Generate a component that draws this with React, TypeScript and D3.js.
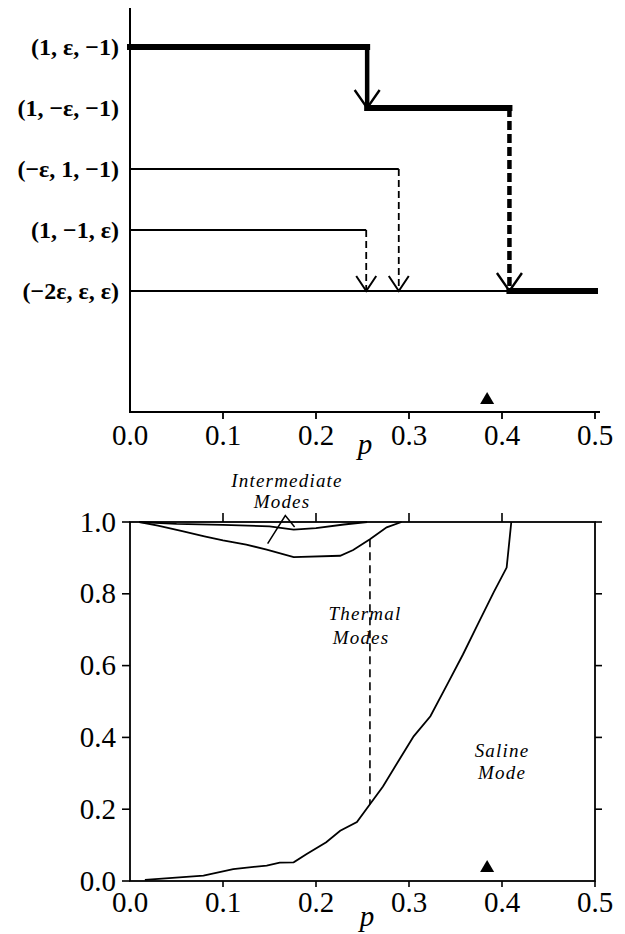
import React from "react";
import * as d3 from "d3";

// ---- data ----
const pTicks = [0, 0.1, 0.2, 0.3, 0.4, 0.5];
const fracTicks = [0, 0.2, 0.4, 0.6, 0.8, 1.0];

// equilibrium states (upper diagram), top to bottom
const states = ["(1, ε, −1)", "(1, −ε, −1)", "(−ε, 1, −1)", "(1, −1, ε)", "(−2ε, ε, ε)"];

// branches: state index, p range, whether it is the followed path
const branchState = [0, 1, 2, 3, 4, 4];
const branchStart = [0, 0.255, 0, 0, 0, 0.408];
const branchEnd = [0.255, 0.408, 0.289, 0.254, 0.408, 0.5];
const branchFollowed = [true, true, false, false, false, true];

// transitions between states
const jumpFrom = [0, 1, 2, 3];
const jumpTo = [1, 4, 4, 4];
const jumpP = [0.255, 0.408, 0.289, 0.254];
const jumpFollowed = [true, true, false, false];
const jumpDashed = [false, true, true, true];

const markerP = 0.384;

// lower diagram: mode boundaries (p, fraction)
const intermediateP = [0.01, 0.05, 0.1, 0.15, 0.176, 0.2, 0.23, 0.255];
const intermediateV = [1.0, 0.995, 0.992, 0.988, 0.979, 0.983, 0.993, 1.0];

const thermalP = [0.01, 0.03, 0.055, 0.08, 0.1, 0.125, 0.147, 0.176, 0.226, 0.24, 0.258, 0.276, 0.292];
const thermalV = [1.0, 0.99, 0.975, 0.96, 0.949, 0.937, 0.923, 0.902, 0.906, 0.922, 0.952, 0.985, 1.0];

const salineP = [0.016, 0.079, 0.111, 0.147, 0.161, 0.176, 0.19, 0.211, 0.226, 0.244, 0.258, 0.272, 0.29, 0.305, 0.323, 0.341, 0.358, 0.373, 0.391, 0.405, 0.41];
const salineV = [0.003, 0.015, 0.033, 0.043, 0.051, 0.052, 0.075, 0.108, 0.14, 0.164, 0.214, 0.263, 0.34, 0.403, 0.459, 0.547, 0.631, 0.71, 0.804, 0.873, 1.0];

const thermalDividerP = 0.258;

const SERIF = '"Liberation Serif", "Times New Roman", Times, serif';

export default function App() {
  const W = 625;
  const H = 934;

  const x = d3.scaleLinear().domain([0, 0.5]).range([130, 595]);

  // upper panel
  const topAxisY = 412;
  const yState = d3.scalePoint<number>().domain(d3.range(states.length)).range([47, 291]);

  // lower panel
  const yF = d3.scaleLinear().domain([0, 1]).range([881, 522]);

  const line = d3
    .line<[number, number]>()
    .x((d) => x(d[0]))
    .y((d) => yF(d[1]));

  const zip = (a: number[], b: number[]) => a.map((v, i) => [v, b[i]] as [number, number]);

  const interpolateAt = (ps: number[], vs: number[], p: number) => {
    for (let i = 1; i < ps.length; i++) {
      if (p <= ps[i]) {
        const t = (p - ps[i - 1]) / (ps[i] - ps[i - 1]);
        return vs[i - 1] + t * (vs[i] - vs[i - 1]);
      }
    }
    return vs[vs.length - 1];
  };

  const arrowHead = (ax: number, ay: number, hw: number, h: number) =>
    `M${ax - hw},${ay - h}L${ax},${ay}L${ax + hw},${ay - h}`;

  const tri = d3.symbol().type(d3.symbolTriangle).size(85)() as string;

  const divTop = interpolateAt(thermalP, thermalV, thermalDividerP);
  const divBottom = interpolateAt(salineP, salineV, thermalDividerP);

  return (
    <svg
      width={W}
      height={H}
      style={{ position: "absolute", left: 0, top: 0, background: "#fff", fontFamily: SERIF }}
    >
      {/* ===== upper panel ===== */}
      <g>
        <line x1={130} x2={130} y1={8} y2={topAxisY} stroke="#000" strokeWidth={2} />
        <line x1={129} x2={600} y1={topAxisY} y2={topAxisY} stroke="#000" strokeWidth={2} />
        {pTicks.slice(1).map((t) => (
          <line key={t} x1={x(t)} x2={x(t)} y1={topAxisY} y2={topAxisY + 7} stroke="#000" strokeWidth={1.8} />
        ))}
        {pTicks.map((t) => (
          <text key={t} x={x(t)} y={445} textAnchor="middle" fontSize={29}>
            {t.toFixed(1)}
          </text>
        ))}
        <text x={365} y={454} textAnchor="middle" fontSize={29} fontStyle="italic">
          p
        </text>

        {states.map((s, i) => (
          <text key={s} x={119} y={(yState(i) as number) + 8} textAnchor="end" fontSize={24} fontWeight="bold">
            {s}
          </text>
        ))}

        {branchState.map((s, i) => (
          <line
            key={i}
            x1={x(branchStart[i])}
            x2={x(branchEnd[i])}
            y1={yState(s) as number}
            y2={yState(s) as number}
            stroke="#000"
            strokeWidth={branchFollowed[i] ? 6 : 1.8}
            strokeLinecap={branchFollowed[i] ? "square" : "butt"}
          />
        ))}

        {jumpFrom.map((f, i) => {
          const xp = x(jumpP[i]);
          const y1 = yState(f) as number;
          const y2 = yState(jumpTo[i]) as number;
          const heavy = jumpFollowed[i];
          return (
            <g key={i}>
              <line
                x1={xp}
                x2={xp}
                y1={y1}
                y2={y2 - 2}
                stroke="#000"
                strokeWidth={heavy ? 4.5 : 1.8}
                strokeDasharray={jumpDashed[i] ? (heavy ? "9,4" : "7,4") : undefined}
              />
              <path
                d={heavy ? arrowHead(xp, y2, 12.5, 18) : arrowHead(xp, y2, 10, 15)}
                fill="none"
                stroke="#000"
                strokeWidth={heavy ? 2.4 : 2}
              />
            </g>
          );
        })}

        <path d={tri} transform={`translate(${x(markerP)},${topAxisY - 12})`} fill="#000" />
      </g>

      {/* ===== lower panel ===== */}
      <g>
        <rect
          x={x(0)}
          y={yF(1)}
          width={x(0.5) - x(0)}
          height={yF(0) - yF(1)}
          fill="none"
          stroke="#000"
          strokeWidth={1.8}
        />
        {pTicks.slice(1).map((t) => (
          <line key={"b" + t} x1={x(t)} x2={x(t)} y1={yF(0)} y2={yF(0) + 6} stroke="#000" strokeWidth={1.6} />
        ))}
        {pTicks.slice(1, -1).map((t) => (
          <line key={"t" + t} x1={x(t)} x2={x(t)} y1={yF(1)} y2={yF(1) - 9} stroke="#000" strokeWidth={1.6} />
        ))}
        {fracTicks.map((t) => (
          <line key={"l" + t} x1={x(0) - 8} x2={x(0)} y1={yF(t)} y2={yF(t)} stroke="#000" strokeWidth={1.6} />
        ))}
        {fracTicks.slice(1).map((t) => (
          <line key={"r" + t} x1={x(0.5)} x2={x(0.5) + 7} y1={yF(t)} y2={yF(t)} stroke="#000" strokeWidth={1.6} />
        ))}
        {pTicks.map((t) => (
          <text key={"bx" + t} x={x(t)} y={912} textAnchor="middle" fontSize={29}>
            {t.toFixed(1)}
          </text>
        ))}
        {fracTicks.map((t) => (
          <text key={"ly" + t} x={116} y={yF(t) + 9.5} textAnchor="end" fontSize={29}>
            {t.toFixed(1)}
          </text>
        ))}
        <text x={367} y={926} textAnchor="middle" fontSize={29} fontStyle="italic">
          p
        </text>

        <path d={line(zip(intermediateP, intermediateV)) as string} fill="none" stroke="#000" strokeWidth={1.8} />
        <path d={line(zip(thermalP, thermalV)) as string} fill="none" stroke="#000" strokeWidth={1.8} />
        <path d={line(zip(salineP, salineV)) as string} fill="none" stroke="#000" strokeWidth={1.8} />

        <line
          x1={x(thermalDividerP)}
          x2={x(thermalDividerP)}
          y1={yF(divTop)}
          y2={yF(divBottom)}
          stroke="#000"
          strokeWidth={1.6}
          strokeDasharray="8,5"
        />

        {/* pointer from the label to both intermediate boundaries */}
        <path
          d={`M${x(0.148)},${yF(0.94)}L${x(0.167)},${yF(1.018)}L${x(0.177)},${yF(0.986)}`}
          fill="none"
          stroke="#000"
          strokeWidth={1.5}
        />

        <g fontStyle="italic" fontSize={19} letterSpacing={1.2} textAnchor="middle">
          <text x={287} y={487}>Intermediate</text>
          <text x={282} y={508}>Modes</text>
          <text x={365} y={620}>Thermal</text>
          <text x={361} y={644}>Modes</text>
          <text x={502} y={757}>Saline</text>
          <text x={502} y={779}>Mode</text>
        </g>

        <path d={tri} transform={`translate(${x(markerP)},${yF(0) - 13})`} fill="#000" />
      </g>
    </svg>
  );
}
